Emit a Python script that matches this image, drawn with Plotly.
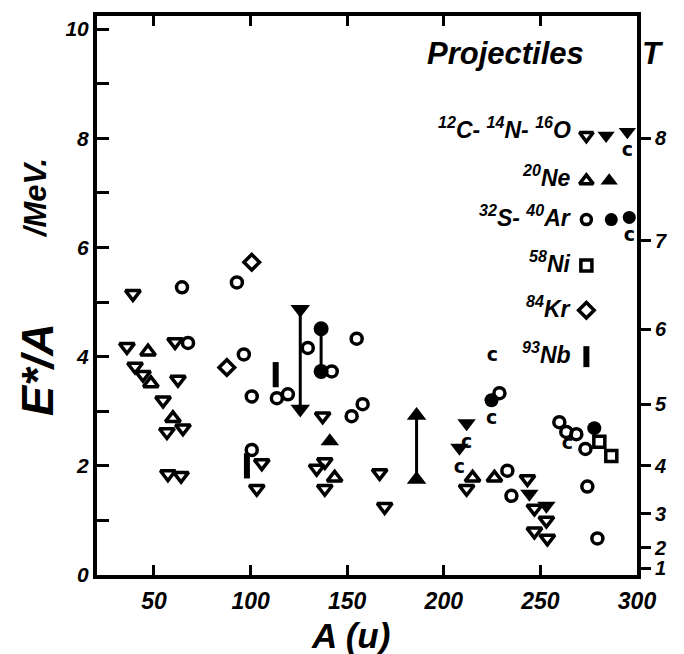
import plotly.graph_objects as go

# ---------------------------------------------------------------
# E*/A (MeV) versus compound-nucleus mass A (u), grouped by projectile
# ---------------------------------------------------------------

# 12C / 14N / 16O projectiles
cno_open_A = [39.1, 36.0, 40.2, 44.3, 60.9, 62.4, 54.7, 56.7, 65.0, 57.2, 64.0,
              105.8, 103.2, 137.3, 138.4, 134.2, 138.4, 166.8, 169.4, 211.8,
              243.3, 246.9, 253.1, 246.9, 253.6]
cno_open_E = [5.15, 4.18, 3.82, 3.67, 4.27, 3.58, 3.20, 2.62, 2.69, 1.85, 1.82,
              2.05, 1.58, 2.91, 2.07, 1.95, 1.58, 1.87, 1.25, 1.58,
              1.76, 1.22, 1.00, 0.80, 0.67]
cno_filled_A = [244.3, 253.1]
cno_filled_E = [1.49, 1.27]
cno_c_A = [211.8, 208.1]
cno_c_E = [2.78, 2.33]
cno_range_A = [125.7, 125.7]
cno_range_E = [4.87, 3.04]

# 20Ne projectiles
ne_open_A = [46.9, 48.4, 59.8, 143.5, 214.9, 226.2]
ne_open_E = [4.09, 3.51, 2.87, 1.78, 1.78, 1.78]
ne_filled_A = [141.0]
ne_filled_E = [2.45]
ne_range_A = [185.9, 185.9]
ne_range_E = [2.92, 1.75]

# 32S / 40Ar projectiles
sar_open_A = [64.5, 92.9, 67.6, 96.5, 100.6, 100.6, 113.6, 119.3, 129.6, 142.0,
              154.9, 152.3, 158.0, 228.8, 232.9, 235.0, 259.8, 263.4, 268.6,
              273.3, 274.3, 279.5]
sar_open_E = [5.27, 5.36, 4.25, 4.04, 3.27, 2.29, 3.24, 3.31, 4.16, 3.73,
              4.33, 2.91, 3.13, 3.33, 1.91, 1.45, 2.80, 2.62, 2.58,
              2.31, 1.62, 0.67]
sar_filled_A = [277.9]
sar_filled_E = [2.69]
sar_c_A = [224.7]
sar_c_E = [3.20]
sar_range_A = [136.5, 136.5]
sar_range_E = [4.51, 3.73]

# 58Ni, 84Kr, 93Nb projectiles
ni_A = [280.5, 286.7]
ni_E = [2.44, 2.18]
kr_A = [100.6, 87.7]
kr_E = [5.73, 3.80]
nb_A = [98.1, 113.0]
nb_E = [2.00, 3.67]

# points marked only with the "c" flag
c_only_A = [225.2, 264.0]
c_only_E = [4.00, 2.40]

# axes
x_ticks = [50, 100, 150, 200, 250, 300]
y_ticks = [0, 2, 4, 6, 8, 10]
T_ticks = [1, 2, 3, 4, 5, 6, 7, 8]
x_range = [20.5, 300]
y_range = [0, 10.24]

FONT = "Liberation Sans"
INK = "black"
C_FONT = dict(family="DejaVu Sans", size=19, color=INK, weight="bold")

fig = go.Figure()


def add_points(A, E, symbol, size, lw=0, text=None, mode="markers"):
    fig.add_trace(go.Scatter(
        x=A, y=E, mode=mode,
        marker=dict(symbol=symbol, size=size, color=INK,
                    line=dict(color=INK, width=lw)),
        text=text, textposition="bottom center", textfont=C_FONT,
        cliponaxis=False, showlegend=False, hoverinfo="x+y"))


def add_range(A, E, symbol, size):
    fig.add_trace(go.Scatter(
        x=A, y=E, mode="lines+markers",
        line=dict(color=INK, width=3),
        marker=dict(symbol=symbol, size=size, color=INK, line=dict(width=0)),
        showlegend=False, hoverinfo="x+y"))


# data marks
add_points(cno_open_A, cno_open_E, "triangle-down-open", 13, lw=3.5)
add_points(cno_filled_A, cno_filled_E, "triangle-down", 16)
add_points(cno_c_A, cno_c_E, "triangle-down", 16,
           text=["c"] * len(cno_c_A), mode="markers+text")
add_range(cno_range_A, cno_range_E, "triangle-down", 17)

add_points(ne_open_A, ne_open_E, "triangle-up-open", 13, lw=3.5)
add_points(ne_filled_A, ne_filled_E, "triangle-up", 16)
add_range(ne_range_A, ne_range_E, "triangle-up", 17)

add_points(sar_open_A, sar_open_E, "circle-open", 11, lw=3.5)
add_points(sar_filled_A, sar_filled_E, "circle", 14)
add_points(sar_c_A, sar_c_E, "circle", 14,
           text=["c"] * len(sar_c_A), mode="markers+text")
add_range(sar_range_A, sar_range_E, "circle", 15)

add_points(ni_A, ni_E, "square-open", 11, lw=3.5)
add_points(kr_A, kr_E, "diamond-open", 12, lw=3.5)
add_points(nb_A, nb_E, "line-ns", 18, lw=6)

fig.add_trace(go.Scatter(
    x=c_only_A, y=c_only_E, mode="text", text=["c"] * len(c_only_A),
    textfont=C_FONT, showlegend=False, hoverinfo="x+y"))

# in-plot key of projectile symbols
add_points([273.8], [8.05], "triangle-down-open", 12, lw=3.5)
add_points([284.0], [8.05], "triangle-down", 15)
add_points([295.0], [8.12], "triangle-down", 15, text=["c"], mode="markers+text")
add_points([273.8], [7.22], "triangle-up-open", 12, lw=3.5)
add_points([285.6], [7.22], "triangle-up", 15)
add_points([273.8], [6.51], "circle-open", 10, lw=3.5)
add_points([286.7], [6.51], "circle", 13)
add_points([296.0], [6.55], "circle", 13, text=["c"], mode="markers+text")
add_points([273.8], [5.67], "square-open", 11, lw=3.5)
add_points([273.8], [4.85], "diamond-open", 12, lw=3.5)
add_points([273.8], [4.00], "line-ns", 15, lw=6)

# anchor trace for the temperature axis
fig.add_trace(go.Scatter(x=[x_range[0]], y=[0], yaxis="y2", mode="markers",
                         marker=dict(opacity=0), showlegend=False,
                         hoverinfo="skip"))

tick_font = dict(family=FONT, size=23, color=INK, weight="bold", style="italic")

fig.update_layout(
    width=684, height=654,
    margin=dict(l=97, r=47, t=12, b=79),
    paper_bgcolor="white", plot_bgcolor="white",
    xaxis=dict(range=x_range, tickvals=x_ticks, ticks="inside", ticklen=10,
               tickwidth=3, tickcolor=INK, showline=True, linewidth=4,
               linecolor=INK, mirror="ticks", showgrid=False, zeroline=False,
               tickfont=tick_font, ticklabelstandoff=2),
    yaxis=dict(range=y_range, tickvals=y_ticks, ticks="inside", ticklen=12,
               tickwidth=3, tickcolor=INK, showline=True, linewidth=4,
               linecolor=INK, showgrid=False, zeroline=False,
               minor=dict(dtick=1, ticks="inside", ticklen=12, tickwidth=3,
                          tickcolor=INK, showgrid=False),
               tickfont=dict(family=FONT, size=21, color=INK, weight="bold",
                             style="italic")),
    yaxis2=dict(range=y_range, overlaying="y", side="right",
                tickvals=[t * t / 8 for t in T_ticks],
                ticktext=[str(t) for t in T_ticks],
                ticks="outside", ticklen=10, tickwidth=3, tickcolor=INK,
                showline=True, linewidth=4, linecolor=INK, showgrid=False,
                zeroline=False,
                tickfont=dict(family=FONT, size=20, color=INK, weight="bold",
                              style="italic")),
)


def label(text, x, y, size, angle=0, xanchor="center"):
    fig.add_annotation(text=text, x=x, y=y, xref="paper", yref="paper",
                       showarrow=False, textangle=angle, xanchor=xanchor,
                       yanchor="middle",
                       font=dict(family=FONT, size=size, color=INK,
                                 weight="bold", style="italic"))


label("E*/A", -0.11, 0.368, 45, angle=-90)
label("/MeV.", -0.114, 0.675, 31, angle=-90)
label("A (u)", 0.47, -0.108, 35)
label("Projectiles", 0.757, 0.933, 31)
label("T", 1.03, 0.933, 31)

key_x = 0.882
label("<sup>12</sup>C- <sup>14</sup>N- <sup>16</sup>O", key_x, 0.800, 23, xanchor="right")
label("<sup>20</sup>Ne", key_x, 0.713, 23, xanchor="right")
label("<sup>32</sup>S- <sup>40</sup>Ar", key_x, 0.642, 23, xanchor="right")
label("<sup>58</sup>Ni", key_x, 0.560, 23, xanchor="right")
label("<sup>84</sup>Kr", key_x, 0.480, 23, xanchor="right")
label("<sup>93</sup>Nb", key_x, 0.397, 23, xanchor="right")

fig.write_html("out.html")
